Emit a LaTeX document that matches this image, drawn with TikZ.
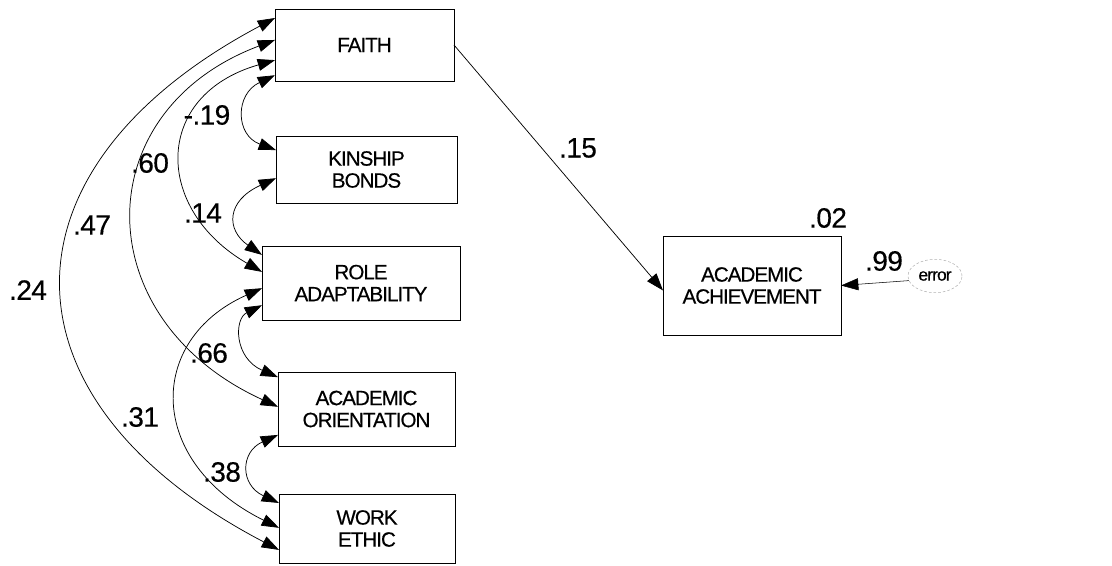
\documentclass[tikz,border=0pt]{standalone}
\usepackage{fontspec}
\setmainfont{Liberation Sans}
\newfontfamily\boxfont{Liberation Sans}[LetterSpace=-5,FakeBold=0.4]
\newfontfamily\numfont{Liberation Sans}[LetterSpace=-2,FakeBold=0.4]
\usetikzlibrary{arrows.meta,calc,shapes.geometric}
\begin{document}
\begin{tikzpicture}[x=0.75pt,y=-0.75pt,
  box/.style={draw,line width=0.6pt,inner sep=0pt,outer sep=0pt,align=center,
    font=\boxfont\fontsize{15.5}{16.5}\selectfont},
  coef/.style={font=\numfont\fontsize{21}{22}\selectfont,inner sep=0pt},
  cov/.style={line width=0.55pt,{Triangle[length=13pt,width=9pt]}-{Triangle[length=13pt,width=9pt]}},
  path/.style={line width=0.55pt,-{Triangle[length=13pt,width=9pt]}}]
\useasboundingbox (0,0) rectangle (1112,565);

% observed variables
\node[box,minimum width=134.25pt,minimum height=54pt]    (faith) at (364.5,45)  {FAITH};
\node[box,minimum width=135.75pt,minimum height=50.25pt] (kin)   at (366.5,169.5) {KINSHIP\\BONDS};
\node[box,minimum width=148.5pt,minimum height=55.5pt]   (role)  at (361,283)   {ROLE\\ADAPTABILITY};
\node[box,minimum width=132.75pt,minimum height=55.5pt]  (ao)    at (366.5,409) {ACADEMIC\\ORIENTATION};
\node[box,minimum width=132pt,minimum height=51.75pt]    (work)  at (367,528.5) {WORK\\ETHIC};
\node[box,minimum width=133.5pt,minimum height=74.25pt]  (ach)   at (752,285.5) {ACADEMIC\\ACHIEVEMENT};

% error term
\node[draw=gray!60,dash pattern=on 2pt off 1.5pt,line width=0.4pt,ellipse,
  minimum width=40.5pt,minimum height=25pt,inner sep=0pt,
  font=\boxfont\fontsize{13}{14}\selectfont] (err) at (935,276) {error};

% attachment points on the left sides
\coordinate (f1) at ($(faith.north west)!0.125!(faith.south west)$);
\coordinate (f2) at ($(faith.north west)!0.43!(faith.south west)$);
\coordinate (f3) at ($(faith.north west)!0.71!(faith.south west)$);
\coordinate (f4) at ($(faith.north west)!0.92!(faith.south west)$);
\coordinate (k1) at ($(kin.north west)!0.21!(kin.south west)$);
\coordinate (k2) at ($(kin.north west)!0.63!(kin.south west)$);
\coordinate (r1) at ($(role.north west)!0.12!(role.south west)$);
\coordinate (r2) at ($(role.north west)!0.35!(role.south west)$);
\coordinate (r3) at ($(role.north west)!0.57!(role.south west)$);
\coordinate (r4) at ($(role.north west)!0.80!(role.south west)$);
\coordinate (a1) at ($(ao.north west)!0.07!(ao.south west)$);
\coordinate (a2) at ($(ao.north west)!0.47!(ao.south west)$);
\coordinate (a3) at ($(ao.north west)!0.85!(ao.south west)$);
\coordinate (w1) at ($(work.north west)!0.13!(work.south west)$);
\coordinate (w2) at ($(work.north west)!0.49!(work.south west)$);
\coordinate (w3) at ($(work.north west)!0.81!(work.south west)$);

% covariances
\draw[cov] (f1) .. controls (-8,168) and (-8,400) .. (w3);
\draw[cov] (f2) .. controls (86,111) and (86,319) .. (a2);
\draw[cov] (f3) .. controls (153,95) and (153,209) .. (r2);
\draw[cov] (f4) .. controls (235,94) and (235,135) .. (k1);
\draw[cov] (k2) .. controls (226,201) and (226,230) .. (r1);
\draw[cov] (r4) .. controls (234,319) and (234,358) .. (a1);
\draw[cov] (r3) .. controls (146,340) and (146,462) .. (w2);
\draw[cov] (a3) .. controls (240,452) and (240,485) .. (w1);

% regression paths
\draw[path] (faith.east) -- ($(ach.north west)!0.55!(ach.south west)$);
\draw[path,line width=0.4pt] (err.190) -- (ach.east);

% coefficients
\node[coef] (c1) at (207,115) {-.19};
\node[coef] (c2) at (150,163) {.60};
\node[coef] (c3) at (92,225)  {.47};
\node[coef] (c4) at (203,213) {.14};
\node[coef] (c5) at (28,290)  {.24};
\node[coef] (c6) at (209,353) {.66};
\node[coef] (c7) at (140,417) {.31};
\node[coef] (c8) at (222,472) {.38};
\node[coef] (c9) at (578,148) {.15};
\node[coef] (c10) at (828,218) {.02};
\node[coef] (c11) at (884,261) {.99};
\end{tikzpicture}
\end{document}
